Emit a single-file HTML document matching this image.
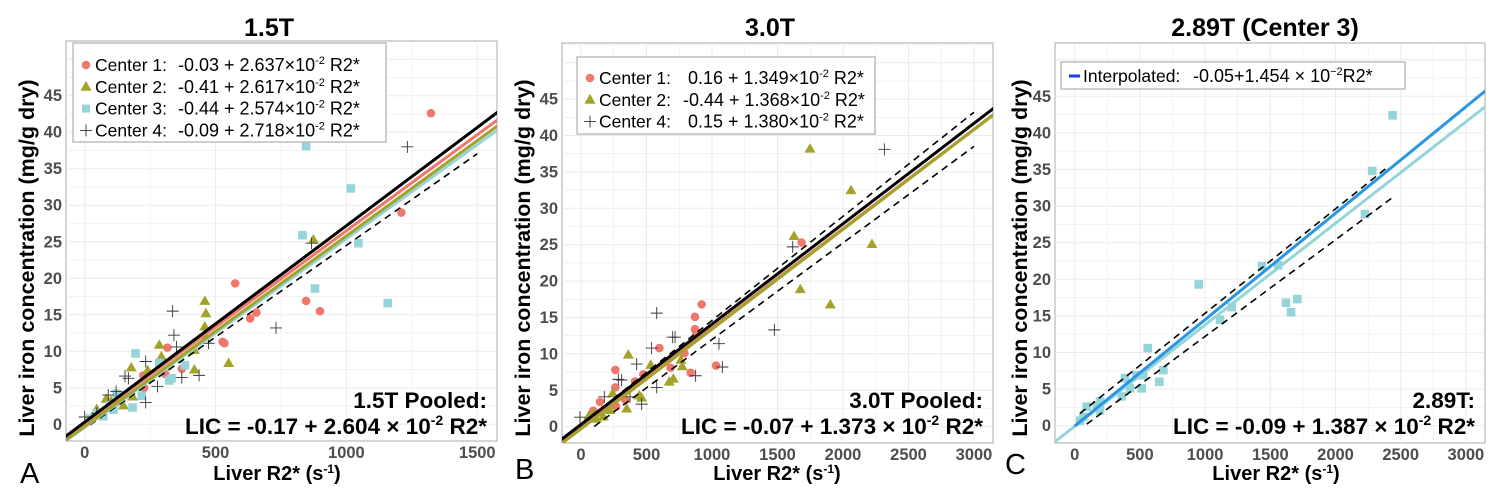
<!DOCTYPE html>
<html><head><meta charset="utf-8"><style>
html,body{margin:0;padding:0;background:#fff;}
svg text{font-family:"Liberation Sans",Arial,sans-serif;}
</style></head><body>
<svg id="fig" width="1500" height="497" viewBox="0 0 1500 497" xmlns="http://www.w3.org/2000/svg"></svg>
<script>
// ---------- Panel A (1.5T) data ----------
const aC1x=[1323,1210,575,846,899,656,632,534,527,316,371,308,227,224,120,60,30];
const aC1y=[42.6,29,19.3,16.9,15.5,15.3,14.5,11.1,11.3,10.5,7.6,6.9,5.0,6.7,3.0,1.5,0.8];
const aC2x=[874,459,463,459,459,285,293,419,419,550,178,241,82,183,148,46,100,60];
const aC2y=[25.3,16.9,15.2,13.4,12.2,10.9,9.3,10.2,7.5,8.4,7.8,7.4,3.5,3.8,2.6,2.1,3.2,1.2];
const aC3x=[846,1017,832,1046,880,1158,194,285,383,332,323,183,218,122,97,46,20,71,150,110];
const aC3y=[38.1,32.3,25.9,24.8,18.6,16.6,9.7,8.4,8.1,6.3,6.0,2.3,3.9,4.2,2.6,1.5,0.8,1.1,4.0,2.0];
const aC4x=[1233,867,731,336,341,351,473,437,371,233,278,233,167,154,90,0,46,120];
const aC4y=[38.0,24.8,13.2,15.5,12.2,10.6,11.1,6.7,6.4,8.6,5.2,3.0,6.3,6.6,4.0,1.0,1.5,4.5];
const aLineInt=[0.2,-0.3,-0.4,0.3];   // red, olive, cyan, black
const aLineSlope=[0.0263,0.0261,0.0258,0.0269];
const aDash=[[-0.6,0.0251,20,1500]];
const aXTicks=[0,500,1000,1500];
const aYTicks=[0,5,10,15,20,25,30,35,40,45];

// ---------- Panel B (3.0T) data ----------
const bC1x=[1684,921,870,870,880,598,789,1031,837,684,262,476,262,412,338,145,267,94];
const bC1y=[25.3,16.8,15.1,13.4,12.6,10.8,10.1,8.4,7.4,8.1,7.8,7.2,5.4,6.2,3.7,3.4,2.8,2.2];
const bC2x=[1748,2061,1626,2221,1674,1903,361,532,763,773,705,674,445,463,349,242,221,94,120,170,60];
const bC2y=[38.2,32.5,26.2,25.1,18.9,16.8,9.9,8.5,9.2,8.3,6.6,6.2,4.3,4.0,2.5,4.6,2.3,1.8,1.1,1.4,1.5];
const bC4x=[2316,1616,1476,578,700,718,539,1053,1079,875,425,578,463,285,310,178,-8,374];
const bC4y=[38.1,24.7,13.3,15.6,12.3,12.3,10.8,11.4,8.2,7.0,8.6,5.4,3.1,6.5,6.4,4.1,1.3,4.1];
const bLineInt=[0.0,-0.3,0.3];  // red, olive, black
const bLineSlope=[0.01365,0.0137,0.01379];
const bDash=[[0.3,0.0143,30,3000],[-1.3,0.01327,100,3000]];
const bXTicks=[0,500,1000,1500,2000,2500,3000];

// ---------- Panel C (2.89T) data ----------
const cC3x=[2438,2282,2226,1436,1561,951,1620,1707,1659,1114,1204,560,680,649,386,514,424,360,473,526,194,169,92,66,41,194];
const cC3y=[42.4,34.8,28.9,21.8,21.9,19.3,16.8,17.3,15.5,14.5,16.2,10.6,7.6,6.0,6.5,5.1,5.1,4.0,6.9,6.9,3.3,2.8,2.6,1.2,0.7,2.1];
const cLineInt=[-0.09,-0.05];  // cyan, blue
const cLineSlope=[0.01387,0.01454];
const cDash=[[1.1,0.01426,41,2412],[-1.0,0.0132,92,2448]];

const RED="#F0776C", OLIVE="#A3A32A", CYAN="#95D5DA", BLUE="#2B96E3", BLACK="#000";
const NS="http://www.w3.org/2000/svg";
const svg=document.getElementById('fig');
function mk(tag,attrs,parent){const e=document.createElementNS(NS,tag);for(const k in attrs)e.setAttribute(k,attrs[k]);(parent||svg).appendChild(e);return e;}

function panel(P){
  const g=mk('g',{});
  
  
  const sx=v=>P.x0+(v)*P.kx, sy=v=>P.y0-v*P.ky;
  const bg=mk('rect',{x:P.L,y:P.T,width:P.R-P.L,height:P.B-P.T,fill:'#fff',stroke:'#a8a8a8','stroke-width':1},g);
  
  
  const step=P.xt[1]-P.xt[0];
  for(let v=-step/2;v<=P.xt[P.xt.length-1]+step;v+=step/2){const X=sx(v);if(X<=P.L||X>=P.R)continue;
    const l=mk('line',{x1:X,x2:X,y1:P.T,y2:P.B,stroke:'#ebebeb','stroke-width':(Math.abs(v%step)<1e-6?1:0.6)},g);
    }
  for(let v=-2.5;v<=55;v+=2.5){const Y=sy(v);if(Y<=P.T||Y>=P.B)continue;
    const l=mk('line',{x1:P.L,x2:P.R,y1:Y,y2:Y,stroke:'#ebebeb','stroke-width':(v%5===0?1:0.6)},g);
    }
  P.xt.forEach(v=>{const t=mk('text',{x:sx(v),y:P.B+17,'text-anchor':'middle','font-size':16.5,'font-weight':'bold',fill:'#4d4d4d'},g);t.textContent=v;
    });
  aYTicks.forEach(v=>{const t=mk('text',{x:P.L-4,y:sy(v)+5.5,'text-anchor':'end','font-size':16.5,'font-weight':'bold',fill:'#4d4d4d'},g);t.textContent=v;
    });
  const clip=mk('clipPath',{id:'clip'+P.id},g);mk('rect',{x:P.L,y:P.T,width:P.R-P.L,height:P.B-P.T},clip);
  const pg=mk('g',{'clip-path':'url(#clip'+P.id+')'},g);
  P.series.forEach(s=>{
    s.xs.forEach((xv,i)=>{const X=sx(xv),Y=sy(s.ys[i]);let e;
      if(s.shape==='circle')e=mk('circle',{cx:X,cy:Y,r:4.3,fill:s.color},pg);
      else if(s.shape==='tri')e=mk('polygon',{points:`${X},${Y-5.5} ${X-5.5},${Y+4} ${X+5.5},${Y+4}`,fill:s.color},pg);
      else if(s.shape==='sq')e=mk('rect',{x:X-4.3,y:Y-4.3,width:8.6,height:8.6,fill:s.color},pg);
      else e=mk('path',{d:`M${X-6},${Y}H${X+6}M${X},${Y-6}V${Y+6}`,stroke:'#333','stroke-width':0.9,fill:'none'},pg);
      });
  });
  P.dash.forEach(d=>{const l=mk('line',{x1:sx(d[2]),y1:sy(d[0]+d[1]*d[2]),x2:sx(d[3]),y2:sy(d[0]+d[1]*d[3]),stroke:'#000','stroke-width':1.6,'stroke-dasharray':'7,5'},pg);
    });
  P.lines.forEach(ln=>{const x1=ln.from!==undefined?ln.from:-500,x2=4000;
    const l=mk('line',{x1:sx(x1),y1:sy(ln.a+ln.b*x1),x2:sx(x2),y2:sy(ln.a+ln.b*x2),stroke:ln.color,'stroke-width':ln.w||3},pg);
    });
  const tt=mk('text',{x:P.tx,y:36,'text-anchor':'middle','font-size':25,'font-weight':'bold',fill:'#000'},g);tt.textContent=P.title;
  
  const xt=mk('text',{x:P.xtx,y:480,'text-anchor':'middle','font-size':20,'font-weight':'bold',fill:'#000'},g);
  xt.innerHTML='Liver R2* (s<tspan font-size="12" dy="-7">-1</tspan><tspan dy="7">)</tspan>';
  
  const yt=mk('text',{x:0,y:0,transform:`translate(${P.ytx},258) rotate(-90)`,'text-anchor':'middle','font-size':21.5,'font-weight':'bold',fill:'#000'},g);
  yt.textContent='Liver iron concentration (mg/g dry)';
  
  const pl=mk('text',{x:P.lx,y:P.ly,'font-size':29,fill:'#000'},g);pl.textContent=P.letter;
  
  const a1=mk('text',{x:P.R-10,y:408,'text-anchor':'end','font-size':22.5,'font-weight':'bold',fill:'#000'},g);a1.textContent=P.pool1;
  
  const a2=mk('text',{x:P.R-10,y:434,'text-anchor':'end','font-size':22.5,'font-weight':'bold',fill:'#000'},g);
  a2.innerHTML=P.pool2a+'<tspan font-size="14" dy="-9">-2</tspan><tspan dy="9"> R2*</tspan>';
  
  const lg=mk('g',{},g);
  mk('rect',{x:P.leg.x,y:P.leg.y,width:P.leg.w,height:P.leg.h,fill:'#fff',stroke:'#bdbdbd','stroke-width':1.5},lg);
  P.leg.items.forEach((it,i)=>{const Y=P.leg.y0+i*21.8,X=P.leg.x+10;let e;
    if(it.shape==='circle')e=mk('circle',{cx:X+3,cy:Y-6,r:4.3,fill:it.color},lg);
    else if(it.shape==='tri')e=mk('polygon',{points:`${X+3},${Y-12} ${X-2.5},${Y-2} ${X+8.5},${Y-2}`,fill:it.color},lg);
    else if(it.shape==='sq')e=mk('rect',{x:X-1,y:Y-10,width:8,height:8,fill:it.color},lg);
    else if(it.shape==='plus')e=mk('path',{d:`M${X-3},${Y-6}H${X+9}M${X+3},${Y-12}V${Y}`,stroke:'#333','stroke-width':0.9},lg);
    else e=mk('line',{x1:X-2,x2:X+9,y1:Y-6,y2:Y-6,stroke:'#1a3cf5','stroke-width':3},lg);
    
    const t=mk('text',{x:X+12,y:Y,'font-size':17.5,fill:'#000'},lg);
    t.innerHTML=it.label;
    const t2=mk('text',{x:P.leg.eqx,y:Y,'font-size':18,fill:'#000'},lg);
    t2.innerHTML=it.eq;
  });
}
const sup='<tspan font-size="11" dy="-7">-2</tspan><tspan dy="7"> R2*</tspan>';
panel({id:'A',name:'panel-1-5T',L:66,R:497,T:41,B:441,x0:84.7,kx:0.2617,y0:424.3,ky:7.302,xt:aXTicks,
  title:'1.5T',tx:269,xtx:277,ytx:34,letter:'A',lx:20,ly:483,
  pool1:'1.5T Pooled:',pool2a:'LIC = -0.17 + 2.604 × 10',
  series:[{xs:aC1x,ys:aC1y,shape:'circle',color:RED,label:'center-1'},{xs:aC2x,ys:aC2y,shape:'tri',color:OLIVE,label:'center-2'},
          {xs:aC3x,ys:aC3y,shape:'sq',color:CYAN,label:'center-3'},{xs:aC4x,ys:aC4y,shape:'plus',label:'center-4'}],
  dash:aDash,
  lines:[{a:aLineInt[2],b:aLineSlope[2],color:CYAN,name:'center-3-fit'},{a:aLineInt[1],b:aLineSlope[1],color:OLIVE,name:'center-2-fit'},
         {a:aLineInt[0],b:aLineSlope[0],color:RED,name:'center-1-fit'},{a:aLineInt[3],b:aLineSlope[3],color:BLACK,name:'pooled-fit'}],
  leg:{x:73,y:43,w:313,h:99,y0:71,eqx:178,items:[
    {shape:'circle',color:RED,label:'Center 1:',eq:'-0.03 + 2.637×10'+sup},
    {shape:'tri',color:OLIVE,label:'Center 2:',eq:'-0.41 + 2.617×10'+sup},
    {shape:'sq',color:CYAN,label:'Center 3:',eq:'-0.44 + 2.574×10'+sup},
    {shape:'plus',label:'Center 4:',eq:'-0.09 + 2.718×10'+sup}]}
});
panel({id:'B',name:'panel-3-0T',L:562,R:993,T:43,B:443,x0:581,kx:0.131,y0:426.7,ky:7.28,xt:bXTicks,
  title:'3.0T',tx:770,xtx:777,ytx:530,letter:'B',lx:515,ly:479,
  pool1:'3.0T Pooled:',pool2a:'LIC = -0.07 + 1.373 × 10',
  series:[{xs:bC1x,ys:bC1y,shape:'circle',color:RED,label:'center-1'},{xs:bC2x,ys:bC2y,shape:'tri',color:OLIVE,label:'center-2'},
          {xs:bC4x,ys:bC4y,shape:'plus',label:'center-4'}],
  dash:bDash,
  lines:[{a:bLineInt[0],b:bLineSlope[0],color:RED,name:'center-1-fit',w:2},{a:bLineInt[1],b:bLineSlope[1],color:OLIVE,name:'center-2-fit'},
         {a:bLineInt[2],b:bLineSlope[2],color:BLACK,name:'pooled-fit'}],
  leg:{x:577,y:57,w:298,h:77,y0:84,eqx:683,items:[
    {shape:'circle',color:RED,label:'Center 1:',eq:'&#160;0.16 + 1.349×10'+sup},
    {shape:'tri',color:OLIVE,label:'Center 2:',eq:'-0.44 + 1.368×10'+sup},
    {shape:'plus',label:'Center 4:',eq:'&#160;0.15 + 1.380×10'+sup}]}
});
panel({id:'C',name:'panel-2-89T',L:1055,R:1485,T:43,B:443,x0:1074.7,kx:0.1304,y0:425.7,ky:7.32,xt:bXTicks,
  title:'2.89T (Center 3)',tx:1265,xtx:1276,ytx:1027,letter:'C',lx:1005,ly:474,
  pool1:'2.89T:',pool2a:'LIC = -0.09 + 1.387 × 10',
  series:[{xs:cC3x,ys:cC3y,shape:'sq',color:CYAN,label:'center-3'}],
  dash:cDash,
  lines:[{a:cLineInt[0],b:cLineSlope[0],color:CYAN,name:'center-3-fit'},{a:cLineInt[1],b:cLineSlope[1],color:BLUE,name:'interpolated-fit',from:0}],
  leg:{x:1061,y:62,w:344,h:27,y0:82,eqx:1193,items:[
    {shape:'line',label:'Interpolated:',eq:'-0.05+1.454 × 10<tspan font-size="11" dy="-7">−2</tspan><tspan dy="7">R2*</tspan>'}]}
});
</script>
</body></html>
